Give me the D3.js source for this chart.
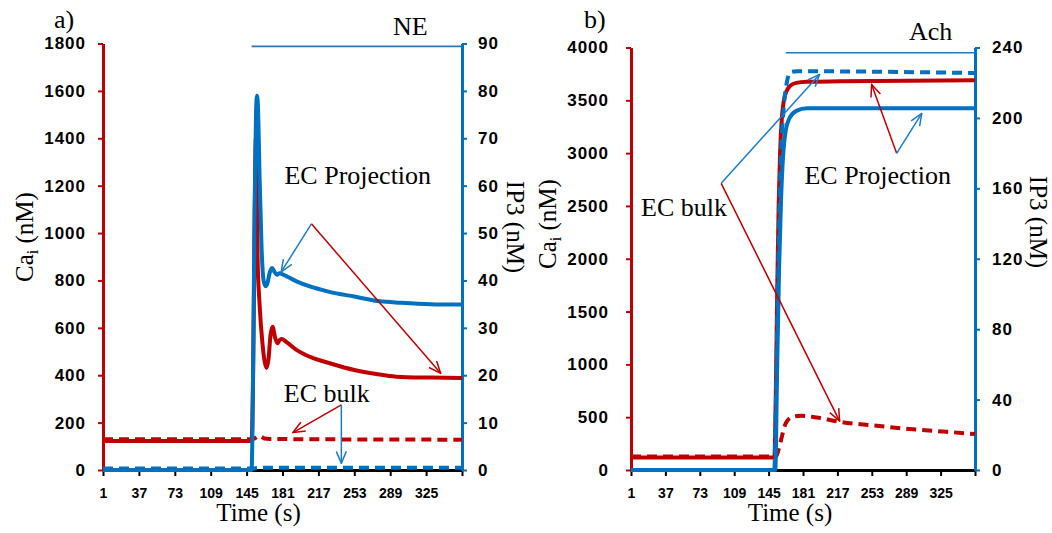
<!DOCTYPE html>
<html>
<head>
<meta charset="utf-8">
<script src="https://cdn.jsdelivr.net/npm/d3@7"></script>
<style>
body { margin: 0; background: #fff; }
svg text { font-family: "Liberation Serif", "Times New Roman", serif; fill: #000; }
.axis .tick text { font-family: "Liberation Sans", Arial, sans-serif; font-weight: bold; }
.yaxis .tick text { font-size: 17px; letter-spacing: 1px; }
.xaxis .tick text { font-size: 14px; }
</style>
</head>
<body>
<svg id="chart" width="1052" height="533"></svg>
<script>
// time ticks shared by both panels
const timeTicks = [1, 37, 73, 109, 145, 181, 217, 253, 289, 325, 361];

// a) NE stimulation
const neCaProjT = [1, 150, 151.5, 153, 154.3, 155, 156, 158, 161, 163, 165, 167, 169, 171, 173.5, 176, 178, 180, 185, 195, 210, 228, 253, 275, 295, 329, 361];
const neCaProj  = [122, 122, 400, 1000, 1400, 1300, 900, 700, 530, 460, 431, 470, 570, 605, 560, 535, 548, 553, 540, 507, 475, 451, 422, 405, 394, 390, 388];
const neCaBulkT = [1, 150, 153, 156, 158, 160, 163, 168, 200, 361];
const neCaBulk  = [130, 130, 133, 142, 145, 140, 133, 131, 130, 128];
const neIp3ProjT = [1, 150, 151.5, 153, 154.5, 155.5, 156.5, 158, 160, 162, 164, 166, 168, 170.5, 173, 175.5, 178, 181, 195, 228, 253, 278.5, 300, 329, 361];
const neIp3Proj  = [0, 0, 20, 55, 76, 79, 76, 62, 47, 40, 38.8, 39.5, 41.5, 42.6, 41.8, 41.2, 41.5, 41.3, 39.8, 37.6, 36.6, 35.6, 35.3, 35.0, 34.9];
const neIp3BulkT = [1, 150, 160, 361];
const neIp3Bulk  = [0.3, 0.3, 0.5, 0.5];

// b) Ach stimulation
const achCaProjT = [1, 151, 152.5, 154, 155.5, 157, 159, 161, 164, 168, 174, 185, 220, 361];
const achCaProj  = [118, 118, 700, 1700, 2500, 3000, 3350, 3500, 3590, 3640, 3665, 3675, 3680, 3690];
const achCaBulkT = [1, 152, 153, 155, 158, 163, 170, 179, 195, 219, 261, 296, 331, 361];
const achCaBulk  = [127, 127, 130, 180, 284, 444, 504, 514, 498, 457, 416, 385, 362, 340];
const achIp3ProjT = [1, 152, 154, 156, 158, 160, 163, 167, 174, 185, 361];
const achIp3Proj  = [0, 0, 60, 115, 153, 177, 193, 200, 204, 205.5, 205.5];
const achIp3BulkT = [1, 151, 152.5, 154.5, 156.5, 158.5, 161, 164, 168, 175, 361];
const achIp3Bulk  = [0, 0, 35, 96, 150, 185, 207, 220, 226, 226.5, 225.5];

const RED = "#C00000", BLUE = "#0070C0";
const svg = d3.select("#chart");

// open V arrowheads
const defs = svg.append("defs");
[["red", RED], ["blue", "#1B7CCB"]].forEach(([id, c]) => {
	defs.append("marker")
		.attr("id", "arrow-" + id)
		.attr("markerUnits", "userSpaceOnUse")
		.attr("viewBox", "0 0 14 12")
		.attr("refX", 13).attr("refY", 6)
		.attr("markerWidth", 14).attr("markerHeight", 12)
		.attr("orient", "auto")
		.append("path")
		.attr("d", "M1,1 L13,6 L1,11")
		.attr("fill", "none")
		.attr("stroke", c)
		.attr("stroke-width", 1.5);
});

function drawPanel(p) {
	const base = 470;
	const x = d3.scaleLinear().domain([1, 361]).range([p.left, p.right]);
	const yCa = d3.scaleLinear().domain([0, p.caMax]).range([base, p.top]);
	const yIp3 = d3.scaleLinear().domain([0, p.ip3Max]).range([base, p.top]);
	const g = svg.append("g");

	// x axis
	const xAxis = g.append("g").attr("class", "axis xaxis")
		.attr("transform", `translate(0 ${base})`)
		.call(d3.axisBottom(x).tickValues(timeTicks)
			.tickFormat(d => d === 361 ? "" : d)
			.tickSize(6).tickPadding(12).tickSizeOuter(0));
	xAxis.select(".domain").attr("stroke", "#000").attr("stroke-width", 3);
	xAxis.selectAll(".tick line").attr("stroke", "#000").attr("stroke-width", 2);

	// left Ca axis
	const yl = g.append("g").attr("class", "axis yaxis")
		.attr("transform", `translate(${p.left} 0)`)
		.call(d3.axisLeft(yCa).tickValues(d3.range(0, p.caMax + 1, p.caStep))
			.tickFormat(d3.format("d"))
			.tickSize(5).tickPadding(p.padL).tickSizeOuter(0));
	yl.select(".domain").attr("stroke", RED).attr("stroke-width", 3);
	yl.selectAll(".tick line").attr("stroke", RED).attr("stroke-width", 2);

	// right IP3 axis
	const yr = g.append("g").attr("class", "axis yaxis")
		.attr("transform", `translate(${p.right} 0)`)
		.call(d3.axisRight(yIp3).tickValues(d3.range(0, p.ip3Max + 1, p.ip3Step))
			.tickFormat(d3.format("d"))
			.tickSize(5).tickPadding(p.padR).tickSizeOuter(0));
	yr.select(".domain").attr("stroke", BLUE).attr("stroke-width", 3);
	yr.selectAll(".tick line").attr("stroke", BLUE).attr("stroke-width", 2);

	// stimulus bar
	g.append("line")
		.attr("x1", x(p.stimT)).attr("x2", x(361))
		.attr("y1", yIp3(p.stimLevel)).attr("y2", yIp3(p.stimLevel))
		.attr("stroke", "#2E75B6").attr("stroke-width", 1.6);
	g.append("text").attr("x", p.stimLabelX).attr("y", p.stimLabelY)
		.attr("font-size", 26).text(p.stimName);

	// curves
	const curve = (ts, vs, y) => d3.line()
		.x((_, i) => x(ts[i]))
		.y(d => y(d))
		.curve(d3.curveMonotoneX)(vs);
	const series = [
		{ d: curve(p.caProjT, p.caProj, yCa), c: RED, dash: null },
		{ d: curve(p.caBulkT, p.caBulk, yCa), c: RED, dash: "10,6" },
		{ d: curve(p.ip3BulkT, p.ip3Bulk, yIp3), c: BLUE, dash: "10,6" },
		{ d: curve(p.ip3ProjT, p.ip3Proj, yIp3), c: BLUE, dash: null },
	];
	g.append("g").selectAll("path").data(series).join("path")
		.attr("d", s => s.d)
		.attr("fill", "none")
		.attr("stroke", s => s.c)
		.attr("stroke-width", 4)
		.attr("stroke-linejoin", "round")
		.attr("stroke-dasharray", s => s.dash);

	// annotations
	const scaleOf = a => a === "ca" ? yCa : yIp3;
	p.notes.forEach(n => {
		g.append("text")
			.attr("x", x(n.label[0])).attr("y", yCa(n.label[1]))
			.attr("font-size", 26).text(n.text);
		n.arrows.forEach(a => {
			g.append("line")
				.attr("x1", x(n.from[0])).attr("y1", yCa(n.from[1]))
				.attr("x2", x(a.to[0])).attr("y2", scaleOf(a.axis)(a.to[1]))
				.attr("stroke", a.axis === "ca" ? RED : "#1B7CCB")
				.attr("stroke-width", 1.5)
				.attr("marker-end", `url(#arrow-${a.axis === "ca" ? "red" : "blue"})`);
		});
	});

	// titles
	g.append("text").attr("x", p.tagX).attr("y", 28).attr("font-size", 26).text(p.tag);
	g.append("text").attr("x", (p.left + p.right) / 2 + p.timeDx).attr("y", 521)
		.attr("text-anchor", "middle").attr("font-size", 25).text("Time (s)");
	const ca = g.append("text")
		.attr("transform", `translate(${p.caTitle[0]} ${p.caTitle[1]}) rotate(-90)`)
		.attr("text-anchor", "middle").attr("font-size", 25);
	ca.append("tspan").text("Ca");
	ca.append("tspan").attr("font-size", 16).attr("dy", 5).text("i");
	ca.append("tspan").attr("dy", -5).text(" (nM)");
	g.append("text")
		.attr("transform", `translate(${p.ipTitle[0]} ${p.ipTitle[1]}) rotate(90)`)
		.attr("text-anchor", "middle").attr("font-size", 25).text("IP3 (nM)");
}

drawPanel({
	left: 103, right: 462, top: 43.5,
	caMax: 1800, caStep: 200, ip3Max: 90, ip3Step: 10, padL: 12, padR: 11,
	caProjT: neCaProjT, caProj: neCaProj, caBulkT: neCaBulkT, caBulk: neCaBulk,
	ip3ProjT: neIp3ProjT, ip3Proj: neIp3Proj, ip3BulkT: neIp3BulkT, ip3Bulk: neIp3Bulk,
	stimT: 150, stimLevel: 89.4, stimName: "NE", stimLabelX: 393, stimLabelY: 35,
	tag: "a)", tagX: 54, timeDx: -24, caTitle: [33, 237], ipTitle: [507, 227],
	notes: [
		{ text: "EC Projection", label: [183, 1205], from: [210, 1039],
			arrows: [{ to: [179.7, 41.8], axis: "ip3" }, { to: [339.6, 408], axis: "ca" }] },
		{ text: "EC bulk", label: [182.3, 289], from: [240, 275],
			arrows: [{ to: [191.4, 158], axis: "ca" }, { to: [240, 1.4], axis: "ip3" }] },
	],
});

drawPanel({
	left: 631, right: 975, top: 47.5,
	caMax: 4000, caStep: 500, ip3Max: 240, ip3Step: 40, padL: 17, padR: 12,
	caProjT: achCaProjT, caProj: achCaProj, caBulkT: achCaBulkT, caBulk: achCaBulk,
	ip3ProjT: achIp3ProjT, ip3Proj: achIp3Proj, ip3BulkT: achIp3BulkT, ip3Bulk: achIp3Bulk,
	stimT: 163, stimLevel: 237, stimName: "Ach", stimLabelX: 909, stimLabelY: 40,
	tag: "b)", tagX: 584, timeDx: -13, caTitle: [556, 224], ipTitle: [1030, 222],
	notes: [
		{ text: "EC bulk", label: [11.5, 2402], from: [95.4, 2714],
			arrows: [{ to: [198.3, 224.7], axis: "ip3" }, { to: [219.3, 463], axis: "ca" }] },
		{ text: "EC Projection", label: [182.5, 2704], from: [279, 2998],
			arrows: [{ to: [252.8, 3650], axis: "ca" }, { to: [305.3, 202.6], axis: "ip3" }] },
	],
});
</script>
</body>
</html>
